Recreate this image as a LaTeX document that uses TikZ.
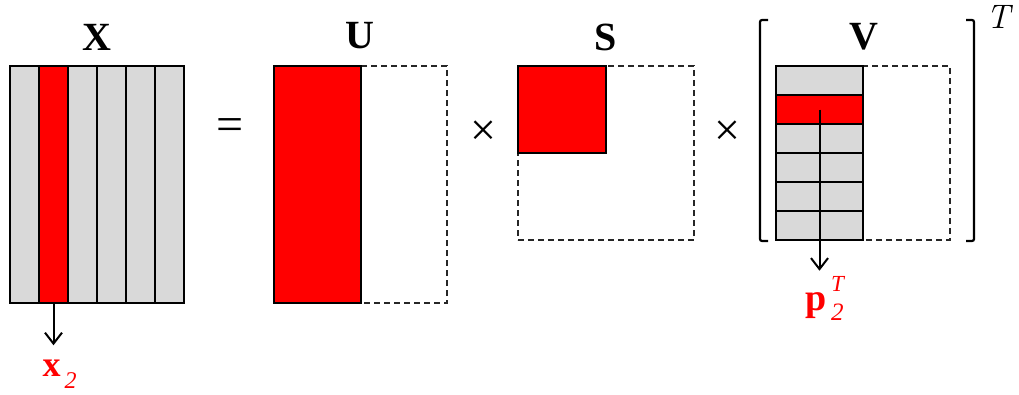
\documentclass[tikz,border=0pt]{standalone}
\usepackage{fontspec}
\setmainfont{Liberation Serif}
\newfontfamily\lmr{Latin Modern Roman}
\usetikzlibrary{arrows.meta}
\definecolor{cellgrey}{RGB}{217,217,217}
\begin{document}
\begin{tikzpicture}[x=1pt,y=-1pt,
  cell/.style={draw=black,line width=2pt,fill=cellgrey,inner sep=0,outer sep=0},
  redcell/.style={cell,fill=red},
  frame/.style={draw=black!85,dash pattern=on 6pt off 4pt,line width=1.8pt,inner sep=0,outer sep=0},
  title/.style={font=\fontsize{40}{48}\selectfont\bfseries,inner sep=0},
  op/.style={font=\fontsize{48}{52}\selectfont,inner sep=0},
  arr/.style={-{Straight Barb[length=11pt,width=17pt]},line width=2pt},
  lbl/.style={text=red,inner sep=0},
  brk/.style={line width=2.2pt,rounded corners=2pt}]
\useasboundingbox (0,0) rectangle (1019,394);

% X
\foreach \i in {1,3,4,5,6}{
  \node[cell,minimum width=29pt,minimum height=237pt] (x\i) at ({29*\i-4.5},184.5) {};
}
\node[redcell,minimum width=29pt,minimum height=237pt] (x2) at (53.5,184.5) {};
\node[title] (Xt) at (97,37.5) {X};
\node[lbl,anchor=base] (x2lab) at (51.5,376) {\fontsize{36}{40}\selectfont\textbf{x}\rlap{\hspace{4pt}\raisebox{-12pt}{\fontsize{24}{24}\selectfont\itshape 2}}};
\draw[arr,shorten >=14pt] (x2.south) -- (x2.south |- x2lab.north);

% =
\node[op] (eq) at (230,130) {=};

% U
\node[frame,minimum width=173pt,minimum height=237pt] (uf) at (360.5,184.5) {};
\node[redcell,minimum width=87pt,minimum height=237pt] (ur) at (317.5,184.5) {};
\node[title] (Ut) at (360,36) {U};

% x
\node[op,font=\fontsize{46}{52}\selectfont] (times1) at (483,133) {×};

% S
\node[frame,minimum width=176pt,minimum height=174pt] (sf) at (606,153) {};
\node[redcell,minimum width=88pt,minimum height=87pt] (sr) at (562,109.5) {};
\node[title] (St) at (606,37) {S};

% x
\node[op,font=\fontsize{46}{52}\selectfont] (times2) at (727,133) {×};

% V
\node[frame,minimum width=174pt,minimum height=174pt] (vf) at (863,153) {};
\foreach \i in {1,3,4,5,6}{
  \node[cell,minimum width=87pt,minimum height=29pt] (v\i) at (819.5,{29*\i+51.5}) {};
}
\node[redcell,minimum width=87pt,minimum height=29pt] (v2) at (819.5,109.5) {};
\node[title] (Vt) at (864,37) {V};
\draw[brk] (768,20) -- (760,20) -- (760,241) -- (768,241);
\draw[brk] (966,20) -- (974,20) -- (974,241) -- (966,241);
\node[inner sep=0] (Tsup) at (998,16.5) {\fontsize{34}{40}\lmr\itshape T};
\node[lbl,anchor=base] (plab) at (816.5,310) {\fontsize{38}{44}\selectfont\textbf{p}\rlap{\hspace{4pt}\raisebox{-10pt}{\fontsize{25}{25}\selectfont\itshape 2}}\rlap{\hspace{4pt}\raisebox{19pt}{\fontsize{23}{23}\selectfont\itshape T}}};
\draw[arr,shorten >=5pt] (v2.center) -- (v2.center |- plab.north);
\end{tikzpicture}
\end{document}
